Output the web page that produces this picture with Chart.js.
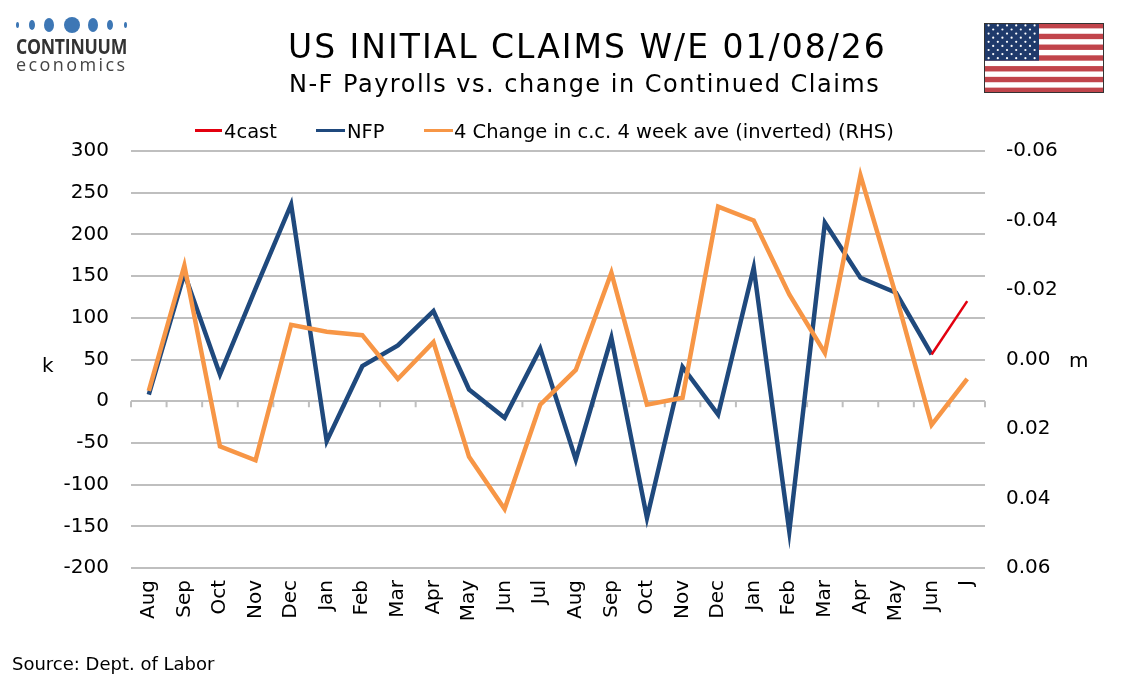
<!DOCTYPE html>
<html>
<head>
<meta charset="utf-8">
<script src="https://cdn.jsdelivr.net/npm/chart.js@4.4.1/dist/chart.umd.min.js"></script>
<style>
  html, body { margin: 0; padding: 0; background: #fff; }
  #wrap { position: relative; width: 1134px; height: 680px; overflow: hidden; font-family: 'DejaVu Sans', Verdana, sans-serif; color: #000; }
  #wrap canvas { position: absolute; left: 0; top: 0; }
  .txt { position: absolute; white-space: nowrap; line-height: 1; }
  .lg-line { position: absolute; height: 3px; }
  .dot { position: absolute; background: #3d77b5; border-radius: 50%; }
</style>
</head>
<body>
<div id="wrap">
  <div style="position:absolute;left:0;top:0;width:1134px;height:680px;">
    <canvas id="myChart"></canvas>
  </div>

  <!-- logo -->
  <div class="dot" style="left:16px;top:22px;width:3px;height:6px;"></div>
  <div class="dot" style="left:29px;top:20px;width:6px;height:10px;"></div>
  <div class="dot" style="left:44px;top:18px;width:10px;height:14px;"></div>
  <div class="dot" style="left:64px;top:17px;width:16px;height:16px;"></div>
  <div class="dot" style="left:88px;top:18px;width:10px;height:14px;"></div>
  <div class="dot" style="left:107px;top:20px;width:6px;height:10px;"></div>
  <div class="dot" style="left:124px;top:22px;width:3px;height:6px;"></div>
  <div class="txt" style="left:16px;top:36px;font-family:'Open Sans',sans-serif;font-weight:700;font-size:21px;letter-spacing:-0.3px;color:#333;transform:scaleX(0.84);transform-origin:0 0;">CONTINUUM</div>
  <div class="txt" style="left:16px;top:55px;font-family:'Open Sans',sans-serif;font-size:18px;letter-spacing:2.4px;color:#444;">economics</div>

  <!-- titles -->
  <div class="txt" style="left:288px;top:30px;font-size:33px;letter-spacing:2px;">US INITIAL CLAIMS W/E 01/08/26</div>
  <div class="txt" style="left:289px;top:72px;font-size:24px;letter-spacing:1.5px;">N-F Payrolls vs. change in Continued Claims</div>

  <!-- flag -->
  <svg style="position:absolute;left:984px;top:23px;" width="120" height="70" viewBox="0 0 120 70">
    <rect x="0" y="0" width="120" height="70" fill="#fff"/>
    <g id="stripes"></g>
    <rect x="0" y="0" width="55" height="37.7" fill="#1f3a6b"/>
    <g id="stars" fill="#fff"></g>
    <rect x="0.5" y="0.5" width="119" height="69" fill="none" stroke="#333" stroke-width="1"/>
  </svg>

  <!-- legend -->
  <div class="lg-line" style="left:195px;top:129px;width:27px;background:#e3000f;"></div>
  <div class="txt" style="left:224px;top:122px;font-size:19.5px;">4cast</div>
  <div class="lg-line" style="left:316px;top:129px;width:29px;background:#1f497d;"></div>
  <div class="txt" style="left:347px;top:122px;font-size:19.5px;">NFP</div>
  <div class="lg-line" style="left:424px;top:129px;width:29px;background:#f79646;"></div>
  <div class="txt" style="left:454px;top:122px;font-size:19.5px;">4 Change in c.c. 4 week ave (inverted) (RHS)</div>

  <!-- axis titles and source -->
  <div class="txt" style="left:42px;top:355px;font-size:20px;">k</div>
  <div class="txt" style="left:1069px;top:350px;font-size:20px;">m</div>
  <div class="txt" style="left:12px;top:655px;font-size:18px;">Source: Dept. of Labor</div>
</div>

<script>
// categories (monthly, Aug 2024 .. Jan 2026)
var months = ['Aug', 'Sep', 'Oct', 'Nov', 'Dec', 'Jan', 'Feb', 'Mar', 'Apr', 'May', 'Jun', 'Jul',
              'Aug', 'Sep', 'Oct', 'Nov', 'Dec', 'Jan', 'Feb', 'Mar', 'Apr', 'May', 'Jun', 'J'];

// non-farm payrolls, k
var nfp = [8, 153, 32, 135, 236, -48, 42, 67, 108, 14, -20, 63,
           -70, 76, -140, 41, -16, 160, -156, 214, 148, 130, 56, null];

// forecast
var forecast = [null, null, null, null, null, null, null, null, null, null, null, null,
                null, null, null, null, null, null, null, null, null, null, 56, 120];

// 4 week ave change in continued claims, m (plotted inverted on RHS)
var ccChange = [0.009, -0.027, 0.025, 0.029, -0.010, -0.008, -0.007, 0.0056, -0.005, 0.028, 0.043, 0.013,
                0.003, -0.025, 0.013, 0.011, -0.044, -0.040, -0.0187, -0.0019, -0.053, -0.0184, 0.0188, 0.0056];

// flag stripes and stars
(function() {
  var ns = 'http://www.w3.org/2000/svg';
  var g = document.getElementById('stripes');
  var h = 70 / 13;
  for (var i = 0; i < 13; i += 2) {
    var r = document.createElementNS(ns, 'rect');
    r.setAttribute('x', 0); r.setAttribute('y', i * h);
    r.setAttribute('width', 120); r.setAttribute('height', h);
    r.setAttribute('fill', '#c1444b');
    g.appendChild(r);
  }
  var s = document.getElementById('stars');
  for (var row = 0; row < 9; row++) {
    var n = row % 2 === 0 ? 6 : 5;
    for (var c = 0; c < n; c++) {
      var cx = (row % 2 === 0 ? 4.6 : 9.2) + c * 9.2;
      var cy = 2.4 + row * 4.1;
      var st = document.createElementNS(ns, 'circle');
      st.setAttribute('cx', cx); st.setAttribute('cy', cy); st.setAttribute('r', 1.1);
      s.appendChild(st);
    }
  }
})();

// small tick marks hanging off the zero line
var zeroTicks = {
  id: 'zeroTicks',
  beforeDatasetsDraw: function(chart) {
    var ctx = chart.ctx;
    var area = chart.chartArea;
    var y0 = chart.scales.y.getPixelForValue(0);
    var step = (area.right - area.left) / months.length;
    ctx.save();
    ctx.strokeStyle = '#bfbfbf';
    ctx.lineWidth = 2;
    ctx.beginPath();
    for (var i = 0; i <= months.length; i++) {
      var x = area.left + i * step;
      ctx.moveTo(x, y0);
      ctx.lineTo(x, y0 + 6);
    }
    ctx.stroke();
    ctx.restore();
  }
};

var tickFont = { family: "'DejaVu Sans', Verdana, sans-serif", size: 20 };

var ctx = document.getElementById('myChart').getContext('2d');
var myChart = new Chart(ctx, {
  type: 'line',
  data: {
    labels: months,
    datasets: [{
      label: '4cast',
      data: forecast,
      yAxisID: 'y',
      borderColor: '#e3000f',
      borderWidth: 2.5,
      pointRadius: 0,
      tension: 0,
      order: 0
    }, {
      label: 'NFP',
      data: nfp,
      yAxisID: 'y',
      borderColor: '#1f497d',
      borderWidth: 4.5,
      pointRadius: 0,
      tension: 0,
      order: 2
    }, {
      label: '4 Change in c.c. 4 week ave (inverted) (RHS)',
      data: ccChange,
      yAxisID: 'y1',
      borderColor: '#f79646',
      borderWidth: 4.5,
      pointRadius: 0,
      tension: 0,
      order: 1
    }]
  },
  options: {
    responsive: true,
    maintainAspectRatio: false,
    animation: false,
    layout: { padding: { top: 151, left: 0, right: 0, bottom: 0 } },
    plugins: {
      legend: { display: false },
      tooltip: { enabled: false }
    },
    scales: {
      x: {
        offset: true,
        grid: { display: false, drawTicks: false },
        border: { display: false },
        ticks: {
          font: tickFont,
          color: '#000',
          autoSkip: false,
          minRotation: 90,
          maxRotation: 90,
          padding: 12
        },
        afterFit: function(scale) { scale.height = 112; }
      },
      y: {
        position: 'left',
        min: -200,
        max: 300,
        grid: { color: '#bfbfbf', lineWidth: 2, drawTicks: false },
        border: { display: false },
        ticks: {
          stepSize: 50,
          font: tickFont,
          color: '#000',
          padding: 22
        },
        afterFit: function(scale) { scale.width = 131; }
      },
      y1: {
        position: 'right',
        min: -0.06,
        max: 0.06,
        reverse: true,
        grid: { display: false, drawTicks: false },
        border: { display: false },
        ticks: {
          stepSize: 0.02,
          font: tickFont,
          color: '#000',
          padding: 21,
          callback: function(v) {
            if (Math.abs(v) < 1e-9) return '0.00';
            return v.toFixed(2);
          }
        },
        afterFit: function(scale) { scale.width = 149; }
      }
    }
  },
  plugins: [zeroTicks]
});
</script>
</body>
</html>
